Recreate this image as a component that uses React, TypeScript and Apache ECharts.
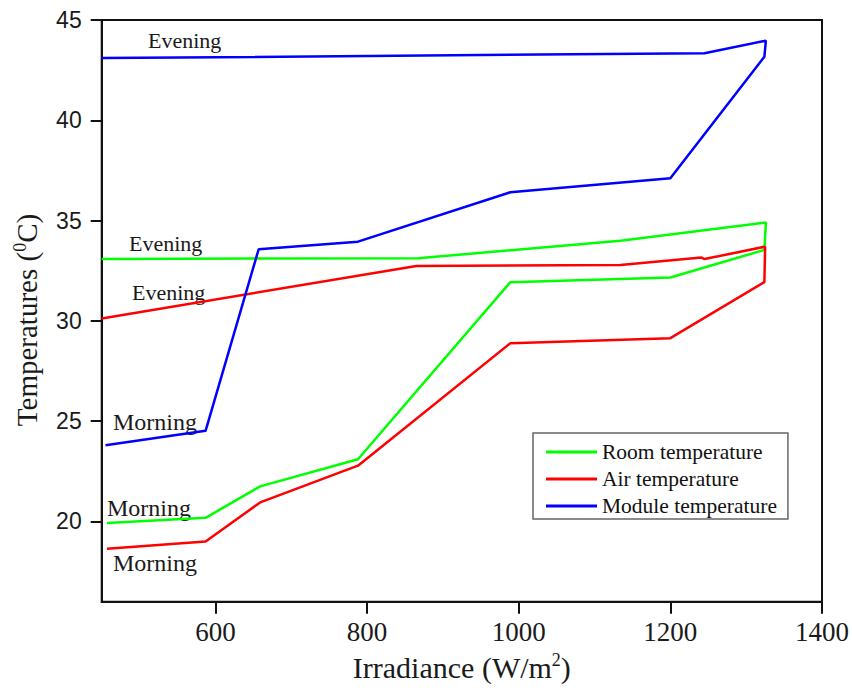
import React, { useEffect, useRef } from "react";
import * as echarts from "echarts";

// Room temperature (green) – morning path then evening return
const roomIrradiance = [457, 587, 659, 788, 989, 1200, 1324, 1326, 1134, 867, 450];
const roomTemp = [19.92, 20.18, 21.75, 23.1, 31.93, 32.16, 33.54, 34.9, 34.0, 33.12, 33.09];

// Air temperature (red)
const airIrradiance = [457, 587, 659, 788, 989, 1200, 1324, 1325, 1245, 1241, 1134, 865, 450];
const airTemp = [18.64, 19.0, 20.95, 22.78, 28.89, 29.14, 31.93, 33.7, 33.08, 33.16, 32.78, 32.74, 30.12];

// Module temperature (blue)
const moduleIrradiance = [455, 587, 657, 788, 989, 1200, 1324, 1326, 1245, 450];
const moduleTemp = [23.8, 24.52, 33.57, 33.95, 36.41, 37.11, 43.17, 43.97, 43.34, 43.1];

const seriesNames = ["Room temperature", "Air temperature", "Module temperature"];
const seriesColors = ["#00FF00", "#FF0000", "#0000FF"];

const xTicks = [600, 800, 1000, 1200, 1400];
const yTicks = [20, 25, 30, 35, 40, 45];

const annotations = [
  { text: "Evening", x: 148, y: 40, size: 22 },
  { text: "Evening", x: 129, y: 243, size: 22 },
  { text: "Evening", x: 132, y: 292, size: 22 },
  { text: "Morning", x: 113, y: 422, size: 24 },
  { text: "Morning", x: 107, y: 508, size: 24 },
  { text: "Morning", x: 113, y: 563, size: 24 },
];

const zip = (xs: number[], ys: number[]) => xs.map((x, i) => [x, ys[i]]);

export default function App() {
  const ref = useRef<HTMLDivElement>(null);
  useEffect(() => {
    if (!ref.current) return;
    const chart = echarts.init(ref.current, null, { renderer: "svg" });
    const serif = "'Liberation Serif', 'Times New Roman', serif";
    const sans = "'Liberation Sans', Arial, sans-serif";
    const data = [
      zip(roomIrradiance, roomTemp),
      zip(airIrradiance, airTemp),
      zip(moduleIrradiance, moduleTemp),
    ];
    chart.setOption({
      animation: false,
      backgroundColor: "#ffffff",
      grid: {
        left: 101.7,
        right: 27,
        top: 20,
        bottom: 91.3,
        show: true,
        borderColor: "#111",
        borderWidth: 2,
        containLabel: false,
      },
      legend: {
        data: seriesNames,
        orient: "vertical",
        left: 533,
        top: 433,
        icon: "rect",
        itemWidth: 51,
        itemHeight: 3,
        itemGap: 5,
        padding: [8, 11, 2, 13],
        borderColor: "#666",
        borderWidth: 1.5,
        textStyle: { fontFamily: serif, fontSize: 21.5, color: "#111", lineHeight: 22 },
      },
      xAxis: {
        type: "value",
        min: 450,
        max: 1400,
        axisLine: { show: true, onZero: false, lineStyle: { color: "#111", width: 2 } },
        axisTick: { show: true, customValues: xTicks, length: 12, lineStyle: { color: "#111", width: 2 } },
        axisLabel: {
          customValues: xTicks,
          formatter: (v: number) => String(v),
          margin: 17,
          fontFamily: serif,
          fontSize: 27,
          color: "#1a1a1a",
        },
        splitLine: { show: false },
        name: "Irradiance (W/m{sup|2})",
        nameLocation: "middle",
        nameGap: 45,
        nameTextStyle: {
          fontFamily: serif,
          fontSize: 30,
          color: "#1a1a1a",
          rich: {
            sup: { fontFamily: serif, fontSize: 18, color: "#1a1a1a", padding: [0, 0, 15, 0] },
          },
        },
      },
      yAxis: {
        type: "value",
        min: 16,
        max: 45,
        axisLine: { show: true, onZero: false, lineStyle: { color: "#111", width: 2 } },
        axisTick: { show: true, customValues: yTicks, length: 11, lineStyle: { color: "#111", width: 2 } },
        axisLabel: { customValues: yTicks, margin: 20, fontFamily: sans, fontSize: 23, color: "#1a1a1a" },
        splitLine: { show: false },
      },
      graphic: [
        {
          type: "text",
          x: 27,
          y: 320,
          rotation: Math.PI / 2,
          style: {
            text: "Temperatures ({sup|0}C)",
            font: `29px ${serif}`,
            fill: "#1a1a1a",
            align: "center",
            verticalAlign: "middle",
            rich: {
              sup: { fontFamily: serif, fontSize: 18, fill: "#1a1a1a", padding: [0, 0, 15, 0] },
            },
          },
        },
        ...annotations.map((a) => ({
          type: "text",
          x: a.x,
          y: a.y,
          style: {
            text: a.text,
            font: `${a.size}px ${serif}`,
            fill: "#1a1a1a",
            align: "left",
            verticalAlign: "middle",
          },
        })),
      ],
      series: seriesNames.map((name, i) => ({
        name,
        type: "line",
        data: data[i],
        symbol: "none",
        lineStyle: { color: seriesColors[i], width: 2.5 },
        itemStyle: { color: seriesColors[i] },
      })),
    });
    return () => chart.dispose();
  }, []);
  return (
    <div
      ref={ref}
      style={{ position: "fixed", left: 0, top: 0, width: 852, height: 693, background: "#fff" }}
    />
  );
}
